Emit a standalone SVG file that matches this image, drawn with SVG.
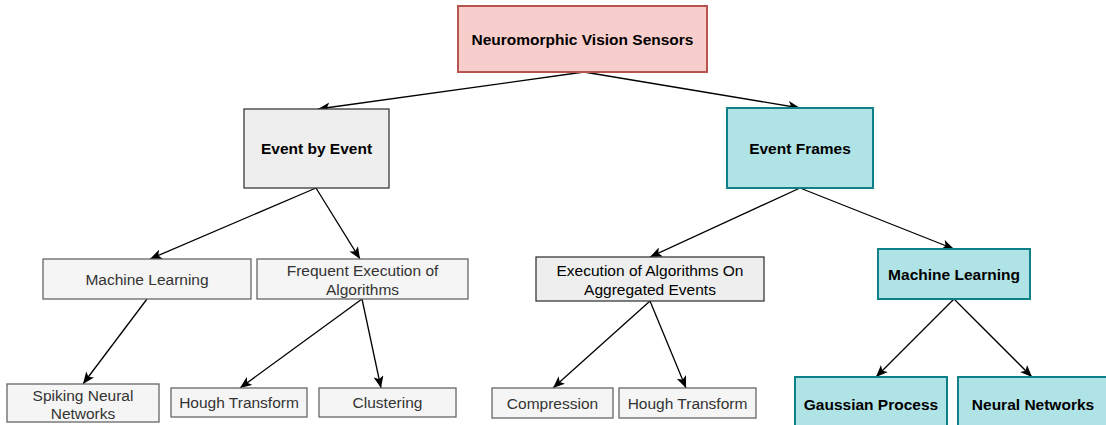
<svg xmlns="http://www.w3.org/2000/svg" width="1106" height="425" viewBox="0 0 1106 425">
<style>
text{font-family:"Liberation Sans",Arial,Helvetica,sans-serif;font-size:15.5px;text-anchor:middle}
.b{font-weight:bold;fill:#000}
.n{fill:#333333}
.k{fill:#000}
.red{fill:#f8cecc;stroke:#b85450;stroke-width:2}
.teal{fill:#b0e3e6;stroke:#0e8088;stroke-width:2}
.g1{fill:#eeeeee;stroke:#36393d;stroke-width:1.3}
.g2{fill:#f5f5f5;stroke:#666666;stroke-width:1.3}
.e{fill:none;stroke:#000;stroke-width:1.3;marker-end:url(#arr)}
</style>
<defs>
<marker id="arr" markerUnits="userSpaceOnUse" viewBox="0 0 12 10" markerWidth="12" markerHeight="10" refX="12" refY="5" orient="auto">
<path d="M0,0 L12,5 L0,10 L3,5 Z" fill="#000"/>
</marker>
</defs>
<rect width="1106" height="425" fill="#fff"/>
<g id="connectors">
<line class="e" x1="584" y1="72" x2="318" y2="109"/>
<line class="e" x1="584" y1="72" x2="800" y2="108"/>
<line class="e" x1="316" y1="188" x2="150" y2="259"/>
<line class="e" x1="316" y1="188" x2="360" y2="259"/>
<line class="e" x1="800" y1="188" x2="650" y2="257"/>
<line class="e" x1="800" y1="188" x2="954" y2="249"/>
<line class="e" x1="147" y1="299" x2="83" y2="384"/>
<line class="e" x1="362" y1="299" x2="240" y2="388"/>
<line class="e" x1="362" y1="299" x2="381" y2="388"/>
<line class="e" x1="650" y1="301" x2="553" y2="388"/>
<line class="e" x1="650" y1="301" x2="686" y2="388"/>
<line class="e" x1="954" y1="299" x2="876" y2="377"/>
<line class="e" x1="954" y1="299" x2="1032" y2="377"/>
</g>
<g id="n-root"><rect class="red" x="458" y="6" width="249" height="66"/><text class="b" x="582.5" y="44.5">Neuromorphic Vision Sensors</text></g>
<g id="n-event-by-event"><rect class="g1" x="244" y="109" width="145" height="79"/><text class="b" x="316.5" y="154">Event by Event</text></g>
<g id="n-event-frames"><rect class="teal" x="727" y="108" width="146" height="80"/><text class="b" x="800" y="153.5">Event Frames</text></g>
<g id="n-ml-left"><rect class="g2" x="43" y="259" width="208" height="40"/><text class="n" x="147" y="284.5">Machine Learning</text></g>
<g id="n-frequent"><rect class="g2" x="257" y="259" width="211" height="40"/><text class="n" x="362.5" y="276">Frequent Execution of</text><text class="n" x="362.5" y="294.5">Algorithms</text></g>
<g id="n-execution"><rect class="g1" x="536" y="257" width="228" height="44"/><text class="k" x="650" y="276">Execution of Algorithms On</text><text class="k" x="650" y="294.5">Aggregated Events</text></g>
<g id="n-ml-right"><rect class="teal" x="878" y="249" width="152" height="50"/><text class="b" x="954" y="279.5">Machine Learning</text></g>
<g id="n-snn"><rect class="g2" x="7" y="384" width="152" height="38"/><text class="n" x="83" y="400.5">Spiking Neural</text><text class="n" x="83" y="419">Networks</text></g>
<g id="n-hough1"><rect class="g2" x="171" y="388" width="136" height="29"/><text class="n" x="239" y="408">Hough Transform</text></g>
<g id="n-clustering"><rect class="g2" x="319" y="388" width="137" height="29"/><text class="n" x="387.5" y="408">Clustering</text></g>
<g id="n-compression"><rect class="g2" x="492" y="388" width="121" height="30"/><text class="n" x="552.5" y="408.5">Compression</text></g>
<g id="n-hough2"><rect class="g2" x="619" y="388" width="137" height="30"/><text class="n" x="687.5" y="408.5">Hough Transform</text></g>
<g id="n-gaussian"><rect class="teal" x="795" y="377" width="152" height="54"/><text class="b" x="871" y="409.5">Gaussian Process</text></g>
<g id="n-neural"><rect class="teal" x="958" y="377" width="150" height="54"/><text class="b" x="1033" y="409.5">Neural Networks</text></g>
</svg>
